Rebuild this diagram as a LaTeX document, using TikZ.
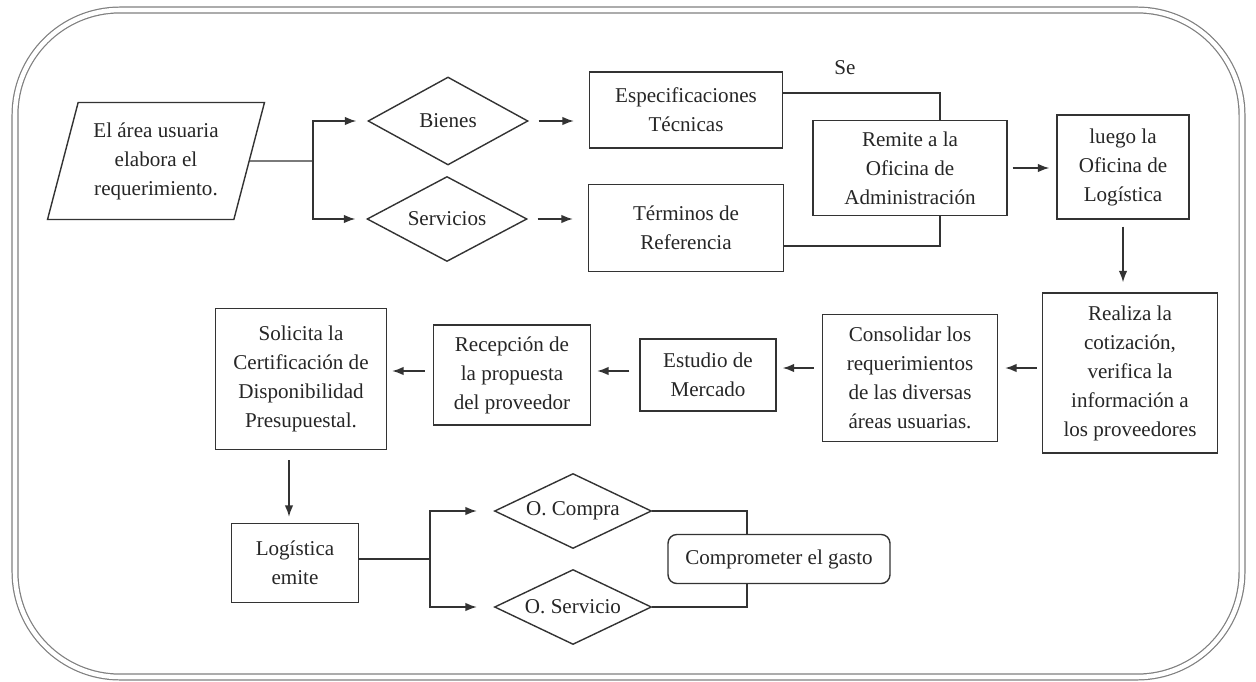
\documentclass[tikz,border=0pt]{standalone}
\usepackage{fontspec}
\setmainfont{Liberation Serif}
\usetikzlibrary{shapes.geometric}
\usetikzlibrary{arrows.meta}
\tikzstyle{caja}=[draw=black!80, fill=white, text=black!85, align=center,
inner sep=2pt, font=\fontsize{12}{16.5}\selectfont]
\tikzstyle{decision}=[caja, diamond, aspect=2, inner sep=0pt]
\tikzstyle{entrada}=[caja, trapezium, trapezium left angle=70,
trapezium right angle=110, trapezium stretches body,
minimum width=4.34cm, minimum height=2.34cm]

\begin{document}
\begin{tikzpicture}
	[x=0.02cm, y=-0.02cm, >={Latex[length=2.3mm, width=1.7mm]}, line width=0.8pt,
	linea/.style = {draw=black!80}]
	\useasboundingbox (0,0) rectangle (1256,682);
	% marco
	\draw[gray, line width=0.7pt, double=white, double distance=2.6pt,
	rounded corners=2.1cm] (15,10) rectangle (1242,677);

	\node[entrada] (req) at (156,161) {El área usuaria\\elabora el\\requerimiento.};
	\node[decision, minimum width=3.2cm, minimum height=1.76cm] (bienes) at (448,121) {Bienes};
	\node[decision, minimum width=3.2cm, minimum height=1.7cm] (servicios) at (447,219) {Servicios};
	\node[caja, minimum width=3.86cm, minimum height=1.52cm] (espec) at (686,110) {Especificaciones\\Técnicas};
	\node[caja, minimum width=3.9cm, minimum height=1.74cm] (terminos) at (686,228) {Términos de\\Referencia};
	\node[caja, minimum width=3.88cm, minimum height=1.9cm] (remite) at (910,168) {Remite a la\\Oficina de\\Administración};
	\node[text=black!85, font=\fontsize{12}{16.5}\selectfont] (se) at (845,68) {Se};
	\node[caja, minimum width=2.64cm, minimum height=2.08cm] (luego) at (1123,167) {luego la\\Oficina de\\Logística};
	\node[caja, minimum width=3.5cm, minimum height=3.2cm] (realiza) at (1130,373) {Realiza la\\cotización,\\verifica la\\información a\\los proveedores};
	\node[caja, minimum width=3.5cm, minimum height=2.54cm] (consolidar) at (910,378) {Consolidar los\\requerimientos\\de las diversas\\áreas usuarias.};
	\node[caja, minimum width=2.72cm, minimum height=1.44cm] (estudio) at (708,375) {Estudio de\\Mercado};
	\node[caja, minimum width=3.14cm, minimum height=2cm] (recepcion) at (512,375) {Recepción de\\la propuesta\\del proveedor};
	\node[caja, minimum width=3.42cm, minimum height=2.82cm] (solicita) at (301,379) {Solicita la\\Certificación de\\Disponibilidad\\Presupuestal.};
	\node[caja, minimum width=2.54cm, minimum height=1.58cm] (logistica) at (295,563) {Logística\\emite};
	\node[decision, minimum width=3.14cm, minimum height=1.5cm] (compra) at (573,511) {O. Compra};
	\node[decision, minimum width=3.14cm, minimum height=1.5cm] (oservicio) at (573,607) {O. Servicio};
	\node[caja, rounded corners=5pt, minimum width=4.44cm, minimum height=0.98cm] (gasto) at (779,559) {Comprometer el gasto};

	\coordinate (split1) at (313,161);
	\coordinate (split2) at (430,559);
	\coordinate (brtop) at (940,93);
	\coordinate (brbot) at (940,246);
	\coordinate (cgtop) at (747,511);
	\coordinate (cgbot) at (747,607);

	\draw[linea] (req.east) -- (split1);
	\draw[linea, ->, shorten >=0.22cm] (split1) |- (bienes.west);
	\draw[linea, ->, shorten >=0.22cm] (split1) |- (servicios.west);
	\draw[linea, ->, shorten <=0.2cm, shorten >=0.3cm] (bienes.east) -- (bienes.east -| espec.west);
	\draw[linea, ->, shorten <=0.2cm, shorten >=0.3cm] (servicios.east) -- (servicios.east -| terminos.west);

	\draw[linea] (espec.east |- brtop) -- (brtop) -- (remite.north -| brtop);
	\draw[linea] (remite.south -| brbot) -- (brbot) -- (terminos.east |- brbot);

	\draw[linea, ->, shorten <=0.1cm, shorten >=0.14cm] (remite.east) -- (remite.east -| luego.west);
	\draw[linea, ->, shorten <=0.14cm, shorten >=0.2cm] (luego.south) -- (luego.south |- realiza.north);
	\draw[linea, ->, shorten <=0.1cm, shorten >=0.14cm] (realiza.west |- 0,368) -- (consolidar.east |- 0,368);
	\draw[linea, ->, shorten <=0.16cm, shorten >=0.12cm] (consolidar.west |- 0,368) -- (estudio.east |- 0,368);
	\draw[linea, ->, shorten <=0.2cm, shorten >=0.12cm] (estudio.west |- 0,371) -- (recepcion.east |- 0,371);
	\draw[linea, ->, shorten <=0.16cm, shorten >=0.1cm] (recepcion.west |- 0,371) -- (solicita.east |- 0,371);
	\draw[linea, ->, shorten <=0.2cm, shorten >=0.12cm] (solicita.south -| 289,0) -- (logistica.north -| 289,0);

	\draw[linea] (logistica.east |- split2) -- (split2);
	\draw[linea, ->, shorten >=0.34cm] (split2) |- (compra.west);
	\draw[linea, ->, shorten >=0.34cm] (split2) |- (oservicio.west);
	\draw[linea] (compra.east) -- (cgtop) -- (gasto.north -| cgtop);
	\draw[linea] (gasto.south -| cgbot) -- (cgbot) -- (oservicio.east);
\end{tikzpicture}
\end{document}
